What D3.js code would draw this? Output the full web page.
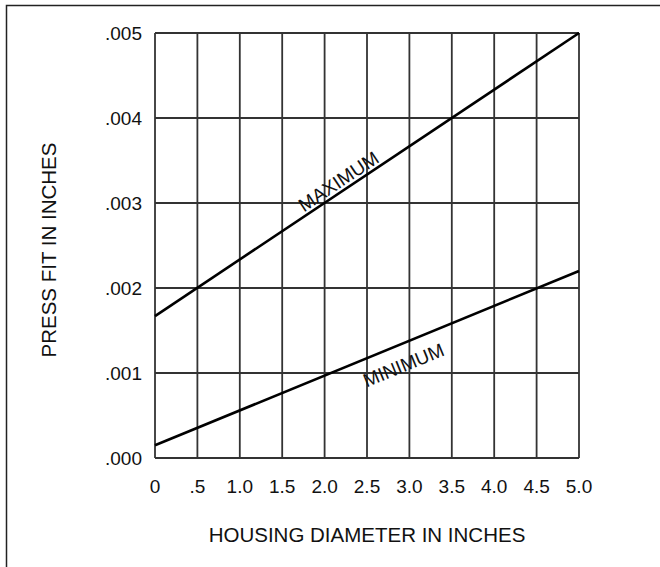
<!DOCTYPE html>
<html>
<head>
<meta charset="utf-8">
<script src="https://cdn.jsdelivr.net/npm/d3@7"></script>
<style>
  body { margin: 0; background: #fff; }
  text { font-family: "Liberation Sans", Arial, sans-serif; fill: #111; }
</style>
</head>
<body>
<div id="chart"></div>
<script>
// data
var xTicks = [0, 0.5, 1.0, 1.5, 2.0, 2.5, 3.0, 3.5, 4.0, 4.5, 5.0];
var xTickLabels = ["0", ".5", "1.0", "1.5", "2.0", "2.5", "3.0", "3.5", "4.0", "4.5", "5.0"];
var yTicks = [0, 0.001, 0.002, 0.003, 0.004, 0.005];
var yTickLabels = [".000", ".001", ".002", ".003", ".004", ".005"];
var diameter = [0, 5.0];
var maxFit = [0.00167, 0.005];
var minFit = [0.00015, 0.0022];

var width = 660, height = 567;
var margin = {top: 33, right: 81, bottom: 109, left: 155};

var svg = d3.select("#chart")
    .append("svg")
    .attr("width", width)
    .attr("height", height);

// outer frame (left and top edges visible)
svg.append("path")
    .attr("d", "M6.5," + height + " L6.5,5.5 L" + width + ",5.5")
    .attr("fill", "none")
    .attr("stroke", "#222")
    .attr("stroke-width", 1.5);

var x = d3.scaleLinear().domain([0, 5]).range([margin.left, width - margin.right]);
var y = d3.scaleLinear().domain([0, 0.005]).range([height - margin.bottom, margin.top]);

var g = svg.append("g");

// grid
g.selectAll("line.v")
    .data(xTicks)
    .enter().append("line")
    .attr("class", "v")
    .attr("x1", function(d) { return x(d); })
    .attr("x2", function(d) { return x(d); })
    .attr("y1", y(0))
    .attr("y2", y(0.005))
    .attr("stroke", "#333")
    .attr("stroke-width", 1.8);

g.selectAll("line.h")
    .data(yTicks)
    .enter().append("line")
    .attr("class", "h")
    .attr("x1", x(0))
    .attr("x2", x(5))
    .attr("y1", function(d) { return y(d); })
    .attr("y2", function(d) { return y(d); })
    .attr("stroke", "#333")
    .attr("stroke-width", 1.8);

// tick labels
g.selectAll("text.xt")
    .data(xTicks)
    .enter().append("text")
    .attr("class", "xt")
    .attr("x", function(d) { return x(d); })
    .attr("y", y(0) + 35)
    .attr("text-anchor", "middle")
    .attr("font-size", 19)
    .text(function(d, i) { return xTickLabels[i]; });

g.selectAll("text.yt")
    .data(yTicks)
    .enter().append("text")
    .attr("class", "yt")
    .attr("x", x(0) - 13)
    .attr("y", function(d) { return y(d) + 7; })
    .attr("text-anchor", "end")
    .attr("font-size", 19)
    .text(function(d, i) { return yTickLabels[i]; });

// axis titles
svg.append("text")
    .attr("x", (x(0) + x(5)) / 2)
    .attr("y", 542)
    .attr("text-anchor", "middle")
    .attr("font-size", 20.5)
    .text("HOUSING DIAMETER IN INCHES");

svg.append("text")
    .attr("transform", "translate(55.5,250) rotate(-90)")
    .attr("text-anchor", "middle")
    .attr("font-size", 20.5)
    .text("PRESS FIT IN INCHES");

// lines
var line = d3.line()
    .x(function(d) { return x(d[0]); })
    .y(function(d) { return y(d[1]); });

g.append("path")
    .datum(d3.zip(diameter, maxFit))
    .attr("d", line)
    .attr("fill", "none")
    .attr("stroke", "#000")
    .attr("stroke-width", 2.6);

g.append("path")
    .datum(d3.zip(diameter, minFit))
    .attr("d", line)
    .attr("fill", "none")
    .attr("stroke", "#000")
    .attr("stroke-width", 2.6);

// line labels, rotated along each line
function slopeAngle(xs, ys) {
    var dx = x(xs[1]) - x(xs[0]), dy = y(ys[1]) - y(ys[0]);
    return Math.atan2(dy, dx) * 180 / Math.PI;
}

function labelAt(name, xs, ys, at, offset) {
    var v = ys[0] + (ys[1] - ys[0]) * (at - xs[0]) / (xs[1] - xs[0]);
    var a = slopeAngle(xs, ys);
    g.append("text")
        .attr("transform", "translate(" + x(at) + "," + y(v) + ") rotate(" + a + ")")
        .attr("y", offset)
        .attr("text-anchor", "middle")
        .attr("font-size", 19)
        .text(name);
}

labelAt("MAXIMUM", diameter, maxFit, 2.23, -3.5);
labelAt("MINIMUM", diameter, minFit, 2.84, 27);
</script>
</body>
</html>
